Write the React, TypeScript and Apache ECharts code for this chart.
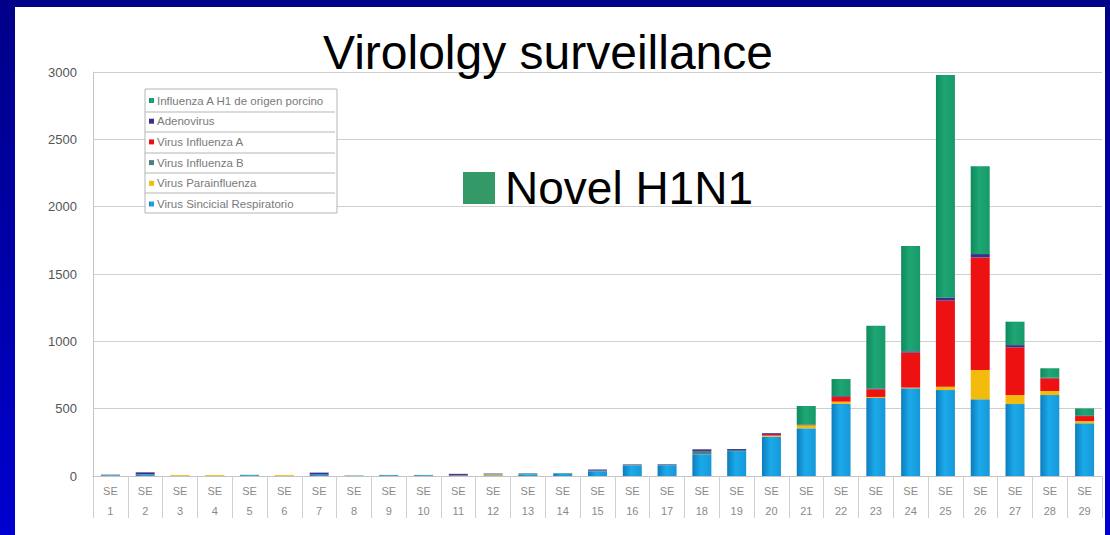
import React, { useEffect, useRef } from "react";
import * as echarts from "echarts";

const weeks = [
  "SE 1", "SE 2", "SE 3", "SE 4", "SE 5", "SE 6", "SE 7", "SE 8", "SE 9", "SE 10",
  "SE 11", "SE 12", "SE 13", "SE 14", "SE 15", "SE 16", "SE 17", "SE 18", "SE 19", "SE 20",
  "SE 21", "SE 22", "SE 23", "SE 24", "SE 25", "SE 26", "SE 27", "SE 28", "SE 29",
];

const rsv = [5, 8, 2, 2, 6, 2, 8, 2, 6, 6, 5, 5, 12, 18, 35, 78, 80, 161, 185, 292, 354, 535, 579, 651, 638, 569, 534, 601, 391];
const parainfluenza = [0, 0, 6, 6, 0, 6, 0, 0, 0, 0, 0, 8, 0, 0, 0, 0, 0, 0, 0, 5, 22, 17, 8, 5, 25, 218, 67, 30, 17];
const influenzaB = [3, 5, 0, 0, 3, 0, 3, 2, 2, 2, 0, 0, 8, 4, 5, 6, 3, 25, 8, 5, 0, 0, 0, 0, 0, 0, 0, 0, 0];
const influenzaA = [0, 0, 0, 0, 0, 0, 0, 0, 0, 0, 3, 0, 0, 0, 0, 0, 0, 0, 0, 10, 4, 37, 57, 260, 639, 836, 354, 94, 37];
const adenovirus = [2, 14, 0, 0, 0, 0, 14, 0, 0, 0, 8, 5, 0, 0, 8, 3, 4, 12, 7, 6, 0, 5, 6, 10, 24, 25, 17, 5, 5];
const h1n1 = [0, 0, 0, 0, 0, 0, 0, 0, 0, 0, 0, 0, 0, 0, 0, 0, 0, 0, 0, 0, 140, 126, 466, 781, 1651, 653, 174, 70, 52];

const yTicks = [0, 500, 1000, 1500, 2000, 2500, 3000];

const names = {
  h1: "Influenza A H1 de origen porcino",
  adeno: "Adenovirus",
  a: "Virus Influenza A",
  b: "Virus Influenza B",
  para: "Virus Parainfluenza",
  rsv: "Virus Sincicial Respiratorio",
};

const FONT = "'Liberation Sans', Arial, sans-serif";

export default function App() {
  const ref = useRef<HTMLDivElement>(null);

  useEffect(() => {
    if (!ref.current) return;
    const chart = echarts.init(ref.current, null, { renderer: "svg" });

    const rsvColor = new echarts.graphic.LinearGradient(0, 0, 1, 0, [
      { offset: 0, color: "#0d7cbc" },
      { offset: 0.45, color: "#1caaea" },
      { offset: 1, color: "#1698d8" },
    ]);
    const greenColor = new echarts.graphic.LinearGradient(0, 0, 1, 0, [
      { offset: 0, color: "#0f8a5e" },
      { offset: 0.45, color: "#1ea673" },
      { offset: 1, color: "#18996a" },
    ]);

    const bar = (name: string, data: number[], color: any) => ({
      name,
      type: "bar",
      stack: "total",
      barWidth: 19,
      data,
      itemStyle: { color },
      emphasis: { disabled: true },
    });

    const rowLines = [112, 132, 153, 173, 193].map((y) => ({
      type: "line",
      z: 3,
      shape: { x1: 145, y1: y, x2: 335, y2: y },
      style: { stroke: "#b5b5b5", lineWidth: 1 },
    }));

    chart.setOption({
      animation: false,
      textStyle: { fontFamily: FONT },
      title: {
        text: "Virololgy surveillance",
        left: 323,
        top: 28,
        padding: 0,
        textStyle: { fontSize: 48, fontWeight: "normal", color: "#000", fontFamily: FONT },
      },
      grid: { left: 93, right: 8, top: 72, bottom: 59, containLabel: false },
      legend: [
        {
          orient: "vertical",
          left: 149,
          top: 94.5,
          padding: 0,
          itemWidth: 5,
          itemHeight: 5,
          itemGap: 8.7,
          icon: "rect",
          z: 5,
          selectedMode: false,
          textStyle: { fontSize: 11.5, color: "#7a7a7a", lineHeight: 12, fontFamily: FONT, padding: [0, 0, 0, -2] },
          data: [names.h1, names.adeno, names.a, names.b, names.para, names.rsv],
        },
        {
          left: 463,
          top: 165,
          padding: 0,
          itemWidth: 32,
          itemHeight: 32,
          icon: "rect",
          z: 5,
          selectedMode: false,
          formatter: () => "Novel H1N1",
          textStyle: { fontSize: 46, color: "#000", fontFamily: FONT, padding: [0, 0, 0, 5] },
          data: [{ name: names.h1, itemStyle: { color: "#339966" } }],
        },
      ],
      graphic: [
        {
          type: "rect",
          z: 3,
          shape: { x: 145, y: 89, width: 192, height: 124 },
          style: { fill: "#ffffff", stroke: "#b5b5b5", lineWidth: 1 },
        },
        ...rowLines,
      ],
      xAxis: {
        type: "category",
        data: weeks,
        boundaryGap: true,
        axisLine: { show: true, lineStyle: { color: "#c4c4c4" } },
        axisTick: { show: true, interval: 0, length: 42, lineStyle: { color: "#cfcfcf" } },
        axisLabel: {
          interval: 0,
          margin: 5,
          fontSize: 11,
          lineHeight: 20,
          color: "#8a8a8a",
          fontFamily: FONT,
          formatter: (v: string) => v.replace(" ", "\n"),
        },
      },
      yAxis: {
        type: "value",
        min: yTicks[0],
        max: yTicks[yTicks.length - 1],
        interval: 500,
        axisLine: { show: true, lineStyle: { color: "#c4c4c4" } },
        axisTick: { show: false },
        axisLabel: {
          fontSize: 13,
          color: "#555",
          margin: 16,
          fontFamily: FONT,
          formatter: (v: number) => String(v),
        },
        splitLine: { show: true, lineStyle: { color: "#cfcfcf" } },
      },
      series: [
        bar(names.rsv, rsv, rsvColor),
        bar(names.para, parainfluenza, "#f3bb0c"),
        bar(names.b, influenzaB, "#4f7f80"),
        bar(names.a, influenzaA, "#ee1111"),
        bar(names.adeno, adenovirus, "#3a2d8c"),
        bar(names.h1, h1n1, greenColor),
      ],
    });

    return () => chart.dispose();
  }, []);

  return (
    <div
      style={{
        position: "fixed",
        left: 0,
        top: 0,
        width: 1110,
        height: 535,
        background: "linear-gradient(to bottom, #000088 0%, #0000b0 60%, #0000d0 100%)",
        overflow: "hidden",
      }}
    >
      <div
        style={{
          position: "absolute",
          left: 15,
          top: 7,
          width: 1090,
          height: 528,
          background: "#ffffff",
        }}
      />
      <div ref={ref} style={{ position: "absolute", left: 0, top: 0, width: 1110, height: 535 }} />
    </div>
  );
}
